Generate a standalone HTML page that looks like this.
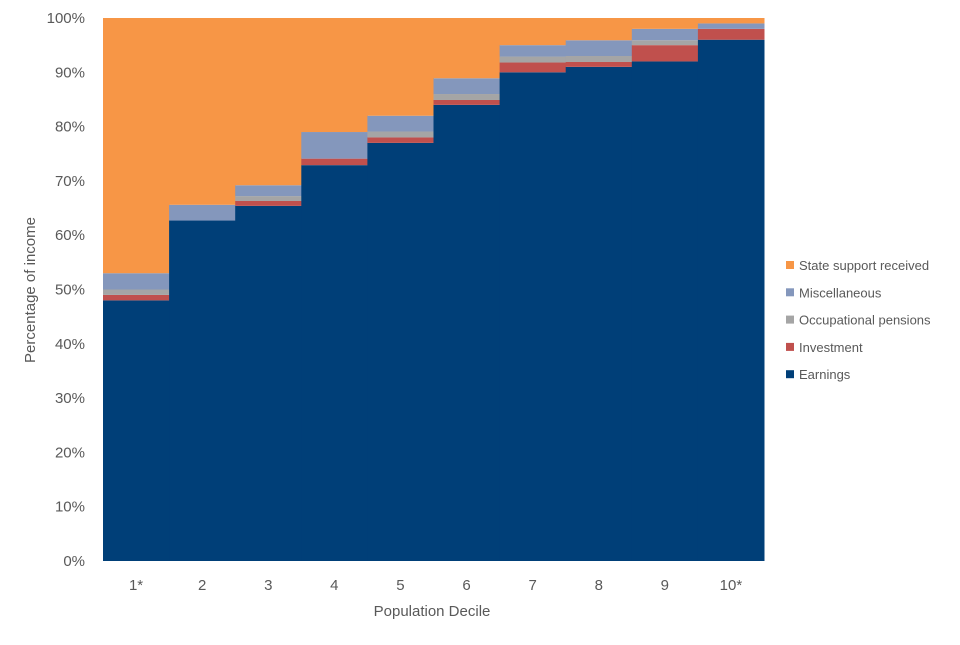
<!DOCTYPE html>
<html><head><meta charset="utf-8"><style>
body{margin:0;background:#fff;font-family:"Liberation Sans",sans-serif;}
svg text{font-family:"Liberation Sans",sans-serif;fill:#595959;}
</style></head><body>
<svg id="chart" width="960" height="640">
<g id="plot"></g>
<g id="yaxis"></g>
<g id="xaxis"></g>
<text x="432" y="616" text-anchor="middle" font-size="15">Population Decile</text>
<text transform="translate(35,290) rotate(-90)" text-anchor="middle" font-size="15">Percentage of income</text>
<g id="legend"></g>
</svg>
<script>
const categories=["1*","2","3","4","5","6","7","8","9","10*"];
const earnings=[48,62.7,65.4,72.9,77,84,90,91,92,96];
const investment=[1,0,0.9,1.2,1,0.9,1.8,0.9,3,2];
const occupational=[1,0,0.9,0,1.1,1.1,1.1,1.1,0.9,0];
const miscellaneous=[3,2.9,2,4.9,2.9,2.9,2.1,2.9,2.1,1];
const stateSupport=[47,34.4,30.8,21,18,11.1,5,4.1,2,1];
const yTicks=[0,10,20,30,40,50,60,70,80,90,100];
const series=[
 {name:"Earnings",vals:earnings,color:"#003f78"},
 {name:"Investment",vals:investment,color:"#c0504d"},
 {name:"Occupational pensions",vals:occupational,color:"#a5a5a5"},
 {name:"Miscellaneous",vals:miscellaneous,color:"#8497bc"},
 {name:"State support received",vals:stateSupport,color:"#f79646"}];
const X0=103,X1=764,Y0=561,Y1=18;
const NS="http://www.w3.org/2000/svg";
const y=v=>Y0-(Y0-Y1)*v/100;
const bw=(X1-X0)/categories.length;
const x=i=>X0+i*bw;
function mk(t,a,p){const e=document.createElementNS(NS,t);for(const k in a)e.setAttribute(k,a[k]);p.appendChild(e);return e;}
const plot=document.getElementById('plot');
categories.forEach((c,i)=>{let acc=0;series.forEach(s=>{const v=s.vals[i];
 const r=mk('rect',{x:x(i),y:y(acc+v),width:bw+0.5,height:Math.max(0,y(acc)-y(acc+v)),fill:s.color},plot);
 
 
 acc+=v;});});
const ya=document.getElementById('yaxis');
yTicks.forEach(t=>{const e=mk('text',{x:85,y:y(t)+5,'text-anchor':'end','font-size':15},ya);e.textContent=t+'%';
 
 });
const xa=document.getElementById('xaxis');
categories.forEach((c,i)=>{const e=mk('text',{x:x(i)+bw/2,y:590,'text-anchor':'middle','font-size':15},xa);e.textContent=c;
 
 });
const lg=document.getElementById('legend');
const order=[4,3,2,1,0];
order.forEach((si,j)=>{const s=series[si];const yy=265+j*27.3;
 const g=mk('g',{},lg);
 
 
 mk('rect',{x:786,y:yy-4,width:8,height:8,fill:s.color},g);
 const t=mk('text',{x:799,y:yy+5,'font-size':13},g);t.textContent=s.name;});
</script>
</body></html>
